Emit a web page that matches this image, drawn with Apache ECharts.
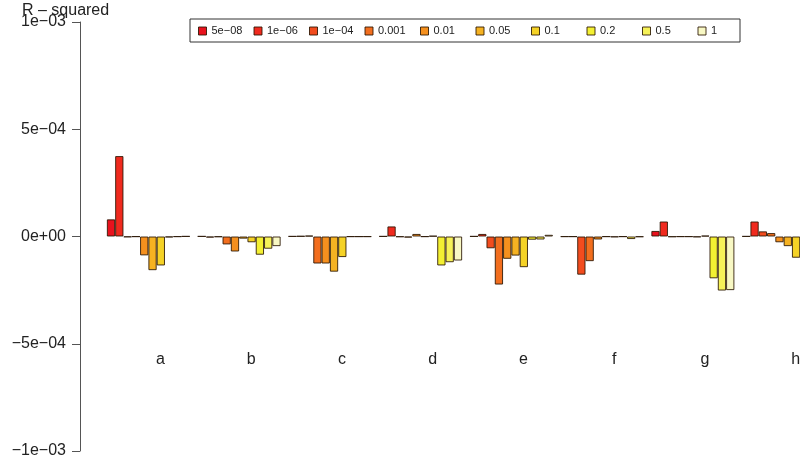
<!DOCTYPE html>
<html>
<head>
<meta charset="utf-8">
<script src="https://cdn.jsdelivr.net/npm/echarts@6/dist/echarts.min.js"></script>
<style>html,body{margin:0;padding:0;background:#fff}#c{width:800px;height:460px}</style>
</head>
<body>
<div id="c"></div>
<script>
const categories = ['a', 'b', 'c', 'd', 'e', 'f', 'g', 'h'];
const thresholds = ['5e\u221208', '1e\u221206', '1e\u221204', '0.001', '0.01', '0.05', '0.1', '0.2', '0.5', '1'];
const colors = ['#E8121E', '#F02A1E', '#F24C1E', '#F26E1E', '#F5901E', '#F5B222', '#F5D226', '#F3F032', '#F6F258', '#F8F8C4'];
const yTickValues = [-1e-3, -5e-4, 0, 5e-4, 1e-3];
const yTickLabels = ['\u22121e\u221203', '\u22125e\u221204', '0e+00', '5e\u221204', '1e\u221203'];

const groupA = [8.0e-5, 3.75e-4, -3e-6, -1e-6, -8.8e-5, -1.57e-4, -1.35e-4, -4e-6, -1e-6, 1e-6];
const groupB = [1e-6, -5e-6, -2e-6, -3.7e-5, -7.0e-5, -1.0e-5, -2.7e-5, -8.5e-5, -5.7e-5, -4.5e-5];
const groupC = [1e-6, 2e-6, 4e-6, -1.26e-4, -1.26e-4, -1.64e-4, -9.6e-5, -1e-6, -1e-6, -1e-6];
const groupD = [1e-6, 4.7e-5, -2e-6, -5e-6, 1.2e-5, -1e-6, 3e-6, -1.35e-4, -1.2e-4, -1.12e-4];
const groupE = [1e-6, 1.2e-5, -5.5e-5, -2.24e-4, -1.04e-4, -8.9e-5, -1.43e-4, -1.5e-5, -1.4e-5, 8e-6];
const groupF = [-1e-6, -1e-6, -1.78e-4, -1.15e-4, -1.4e-5, -1e-6, -3e-6, -1e-6, -1.2e-5, -2e-6];
const groupG = [2.6e-5, 7.0e-5, -2e-6, -1e-6, -1e-6, -3e-6, 4e-6, -1.95e-4, -2.52e-4, -2.5e-4];
const groupH = [1e-6, 7.0e-5, 2.4e-5, 1.6e-5, -2.7e-5, -4.5e-5, -9.9e-5, -1.3e-4, -1.5e-4, -1.4e-4];

const groups = [groupA, groupB, groupC, groupD, groupE, groupF, groupG, groupH];
const FONT = '"Liberation Sans", Arial, Helvetica, sans-serif';

const series = thresholds.map((name, i) => ({
  name: name,
  type: 'bar',
  data: groups.map(g => g[i]),
  barGap: '0%',
  barCategoryGap: '8.5%',
  itemStyle: { color: colors[i], borderColor: 'rgba(40,20,0,0.85)', borderWidth: 1 },
  emphasis: { disabled: true },
  animation: false
}));

const chart = echarts.init(document.getElementById('c'), null, { renderer: 'canvas' });
chart.setOption({
  animation: false,
  textStyle: { fontFamily: FONT },
  title: {
    text: 'R \u2013 squared', left: 22, top: 2, padding: 0,
    textStyle: { fontSize: 16, fontWeight: 'normal', color: '#222', fontFamily: FONT, lineHeight: 18 }
  },
  grid: { left: 103, top: 22, width: 726, bottom: 9, containLabel: false, outerBoundsMode: 'none' },
  graphic: [{
    type: 'rect', z: 10,
    shape: { x: 190, y: 19, width: 550, height: 23 },
    style: { fill: 'transparent', stroke: '#333', lineWidth: 1 }
  }],
  legend: {
    left: 198, top: 24, padding: 0,
    itemWidth: 8, itemHeight: 8, itemGap: 5,
    icon: 'rect',
    textStyle: { fontSize: 11, color: '#222', width: 37, fontFamily: FONT, lineHeight: 14 },
    data: thresholds.map((n, i) => ({ name: n, itemStyle: { color: colors[i], borderColor: 'rgba(40,20,0,0.85)', borderWidth: 1 } }))
  },
  xAxis: {
    type: 'category',
    data: categories,
    axisLine: { show: false },
    axisTick: { show: false },
    splitLine: { show: false },
    axisLabel: { interval: 0, margin: -99, fontSize: 16, color: '#222', fontFamily: FONT, padding: [0, 0, 0, 24] }
  },
  yAxis: {
    type: 'value',
    min: -1e-3, max: 1e-3, interval: 5e-4,
    offset: 23,
    axisLine: { show: true, lineStyle: { color: '#555', width: 1 } },
    axisTick: { show: true, length: 8, inside: false, lineStyle: { color: '#555' } },
    splitLine: { show: false },
    axisLabel: {
      margin: 14, fontSize: 16, color: '#222', fontFamily: FONT,
      formatter: v => {
        const k = yTickValues.findIndex(t => Math.abs(t - v) < 1e-9);
        return k >= 0 ? yTickLabels[k] : '';
      }
    }
  },
  series: series
});
</script>
</body>
</html>
